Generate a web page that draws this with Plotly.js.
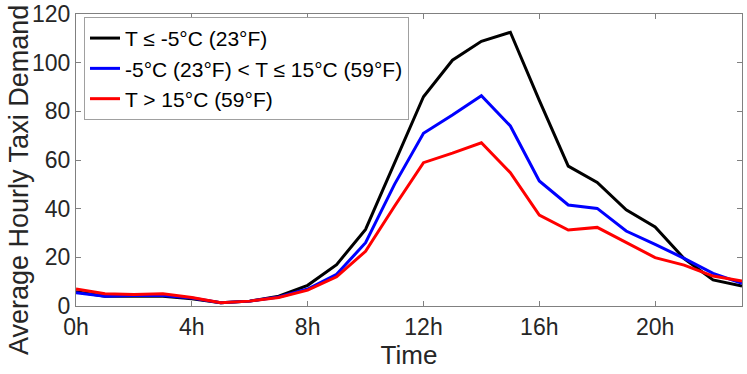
<!DOCTYPE html>
<html>
<head>
<meta charset="utf-8">
<script src="https://cdn.plot.ly/plotly-3.0.1.min.js"></script>
<style>
  body { margin: 0; background: #fff; }
  #chart { width: 747px; height: 374px; }
</style>
</head>
<body>
<div id="chart"></div>
<script>
// hours of the day
var hours = [0, 1, 2, 3, 4, 5, 6, 7, 8, 9, 10, 11, 12, 13, 14, 15, 16, 17, 18, 19, 20, 21, 22, 23];

// average hourly demand per temperature band
var coldDemand = [5.9, 4, 4, 4, 3, 1.3, 2, 4, 8.5, 17, 31.5, 59, 86, 101, 108.8, 112.5, 84.5, 57.5, 50.8, 39.5, 32.5, 19.5, 10.7, 8.2];
var mildDemand = [5.5, 4, 4.3, 4.3, 3.3, 1.3, 2, 3.7, 7, 13, 26, 50, 71, 78.5, 86.4, 74, 51.4, 41.5, 40.1, 30.8, 25.3, 19.6, 13.4, 9.3];
var warmDemand = [7, 5, 4.7, 5, 3.5, 1.3, 2, 3.5, 6.5, 12, 22.5, 41, 58.9, 62.8, 67.1, 54.8, 37.4, 31.2, 32.3, 26, 19.9, 16.8, 12.3, 10.3];

var seriesNames = ['T \u2264 -5\u00B0C (23\u00B0F)', '-5\u00B0C (23\u00B0F) < T \u2264 15\u00B0C (59\u00B0F)', 'T > 15\u00B0C (59\u00B0F)'];

var tickVals = [0, 4, 8, 12, 16, 20];
var tickText = ['0h', '4h', '8h', '12h', '16h', '20h'];

var fontFam = 'Liberation Sans, Arial, sans-serif';

var data = [
  { x: hours, y: coldDemand, name: seriesNames[0], type: 'scatter', mode: 'lines', line: { color: '#000000', width: 3 } },
  { x: hours, y: mildDemand, name: seriesNames[1], type: 'scatter', mode: 'lines', line: { color: '#0000ff', width: 3 } },
  { x: hours, y: warmDemand, name: seriesNames[2], type: 'scatter', mode: 'lines', line: { color: '#ff0000', width: 3 } }
];

var layout = {
  width: 747,
  height: 374,
  margin: { l: 76, r: 5, t: 14, b: 68 },
  paper_bgcolor: '#ffffff',
  plot_bgcolor: '#ffffff',
  font: { family: fontFam, color: '#262626', size: 23 },
  showlegend: true,
  legend: {
    x: 0.012, y: 0.99, xanchor: 'left', yanchor: 'top',
    bgcolor: '#ffffff', bordercolor: '#a0a0a0', borderwidth: 1,
    font: { family: fontFam, size: 21, color: '#000000' },
    itemwidth: 30, tracegroupgap: 0
  },
  xaxis: {
    range: [0, 23],
    tickvals: tickVals,
    ticktext: tickText,
    ticks: 'inside', ticklen: 5, tickcolor: '#808080',
    showline: true, linecolor: '#808080', linewidth: 1, mirror: 'ticks',
    showgrid: false, zeroline: false,
    tickfont: { size: 23 },
    title: { text: 'Time', font: { size: 26 }, standoff: 4 }
  },
  yaxis: {
    range: [0, 120],
    dtick: 20,
    ticks: 'inside', ticklen: 5, tickcolor: '#808080',
    showline: true, linecolor: '#808080', linewidth: 1, mirror: 'ticks',
    showgrid: false, zeroline: false,
    tickfont: { size: 23 }
  },
  annotations: [{
    text: 'Average Hourly Taxi Demand',
    xref: 'paper', yref: 'paper',
    x: -0.0856, y: 0.4315,
    xanchor: 'center', yanchor: 'middle',
    textangle: -90, showarrow: false,
    font: { family: fontFam, size: 27, color: '#262626' }
  }]
};

Plotly.newPlot('chart', data, layout, { displayModeBar: false, staticPlot: true });
</script>
</body>
</html>
